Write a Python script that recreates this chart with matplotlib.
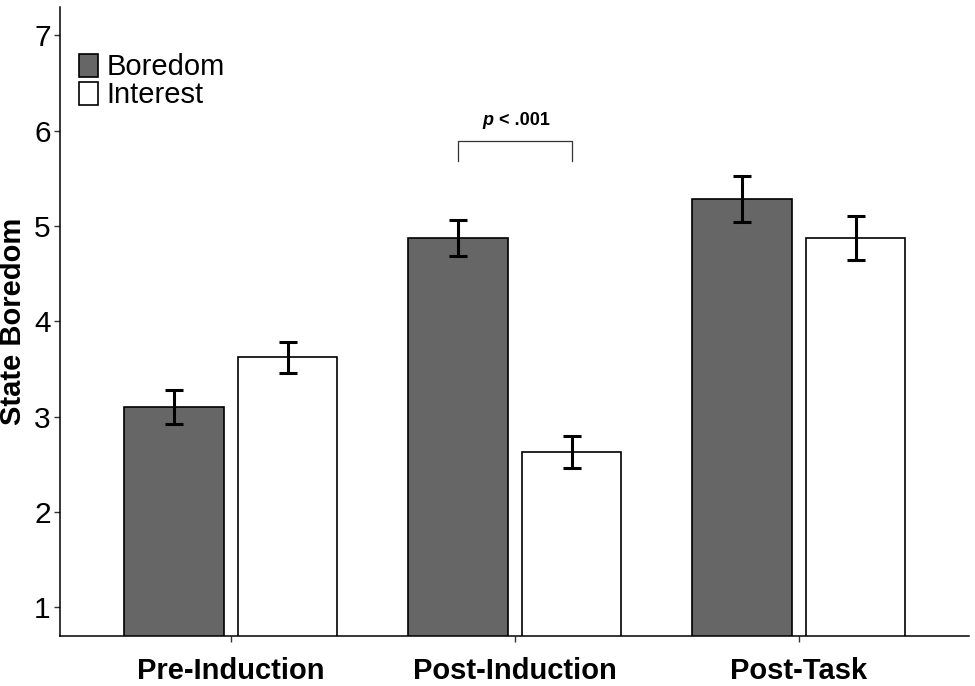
import numpy as np
import matplotlib
matplotlib.use("Agg")
import matplotlib.pyplot as plt

plt.rcParams["font.family"] = ["Liberation Sans", "DejaVu Sans"]

phases = ["Pre-Induction", "Post-Induction", "Post-Task"]
boredom_means = [3.10, 4.87, 5.28]
boredom_err = [0.18, 0.19, 0.24]
interest_means = [3.62, 2.63, 4.87]
interest_err = [0.16, 0.17, 0.23]

# significance bracket between the two Post-Induction bars
sig_group = 1
sig_low, sig_high = 5.68, 5.89
sig_label = ".001"

fig = plt.figure(figsize=(9.75, 6.86), dpi=100)
ax = fig.add_axes([0.062, 0.0733, 0.932, 0.9167])

x = np.arange(len(phases))
width = 0.35
offset = 0.2
bar_kw = dict(edgecolor="black", linewidth=1.2, zorder=2)
err_kw = dict(fmt="none", ecolor="black", elinewidth=2.2, capsize=6.5,
              capthick=2.2, zorder=3)

ax.bar(x - offset, boredom_means, width, color="#666666", label="Boredom", **bar_kw)
ax.bar(x + offset, interest_means, width, color="white", label="Interest", **bar_kw)
ax.errorbar(x - offset, boredom_means, yerr=boredom_err, **err_kw)
ax.errorbar(x + offset, interest_means, yerr=interest_err, **err_kw)

# bracket
bx = [sig_group - offset, sig_group - offset, sig_group + offset, sig_group + offset]
by = [sig_low, sig_high, sig_high, sig_low]
ax.plot(bx, by, color="#333333", linewidth=0.9)
ax.text(sig_group - 0.076, 6.11, "p", ha="right", va="center", fontsize=13,
        fontweight="bold", fontstyle="italic")
ax.text(sig_group - 0.054, 6.11, "< " + sig_label, ha="left", va="center",
        fontsize=13, fontweight="bold")

ax.set_xlim(-0.6, 2.6)
ax.set_ylim(0.7, 7.3)
ax.set_yticks(range(1, 8))
ax.set_xticks(x)
ax.set_xticklabels(phases, fontsize=21, fontweight="bold")
ax.tick_params(axis="y", labelsize=21.5, length=4, width=1, color="#333333", pad=3)
ax.tick_params(axis="x", length=4, width=1, color="#333333", pad=11)
ax.set_ylabel("State Boredom", fontsize=21, fontweight="bold", labelpad=5)

for side in ["top", "right"]:
    ax.spines[side].set_visible(False)
for side in ["left", "bottom"]:
    ax.spines[side].set_linewidth(1.1)

ax.legend(loc="upper left", bbox_to_anchor=(0.02, 0.926), frameon=False,
          fontsize=21, handlelength=0.66, handleheight=0.86, handletextpad=0.3,
          labelspacing=0.0, borderpad=0, borderaxespad=0)

fig.savefig("out.png", dpi=100)
